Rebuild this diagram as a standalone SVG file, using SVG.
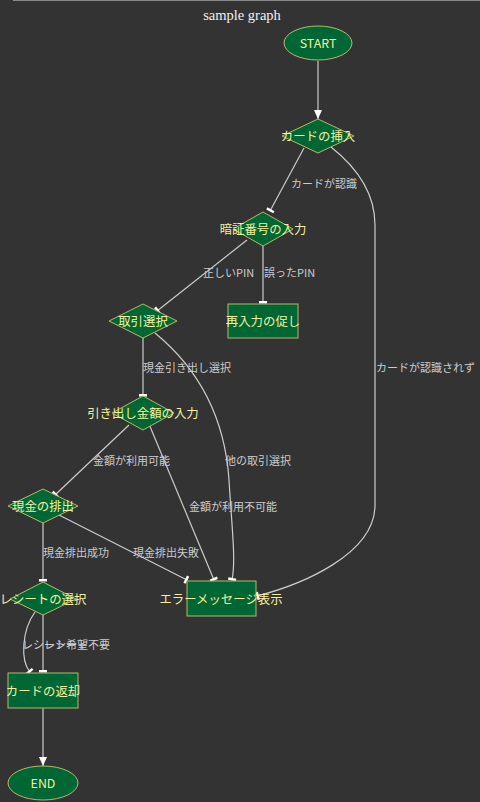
<svg xmlns="http://www.w3.org/2000/svg" width="480" height="802" viewBox="0 0 480 802">
<style>
.bg{fill:#333333}
.node{fill:#006633;stroke:#b8b86a;stroke-width:1}
.nt{font-family:"Noto Sans CJK JP","Liberation Sans",sans-serif;font-size:12.4px;fill:#f5f0a0;text-anchor:middle;dominant-baseline:central}
.edge{fill:none;stroke:#cccccc;stroke-width:1.2}
.el{font-family:"Noto Sans CJK JP","Liberation Sans",sans-serif;font-size:11px;fill:#cccccc}
.title{font-family:"Liberation Serif",serif;font-size:14.5px;fill:#f0f0f0;text-anchor:middle}
</style>
<defs>
<marker id="tee" markerUnits="userSpaceOnUse" markerWidth="6" markerHeight="12" refX="3" refY="6" orient="auto">
<rect x="1" y="2" width="2.5" height="8" fill="#ffffff"/>
</marker>
<marker id="arr" markerUnits="userSpaceOnUse" markerWidth="10" markerHeight="10" refX="9" refY="5" orient="auto">
<path d="M0,1 L9,5 L0,9 Z" fill="#ffffff"/>
</marker>
</defs>
<rect class="bg" x="0" y="0" width="480" height="802"/>
<line x1="13" y1="0.5" x2="480" y2="0.5" stroke="#8a8a8a" stroke-width="1"/>
<text class="title" x="242" y="20">sample graph</text>

<g id="connectors">
<path class="edge" d="M318,61 L318,119" marker-end="url(#arr)"/>
<path class="edge" d="M304,148 L270,211" marker-end="url(#tee)"/>
<path class="edge" d="M331,147 C360,170 375,195 375,225 L375,505 C375,555 300,585 257,596" marker-end="url(#tee)"/>
<path class="edge" d="M247,240 L157,311" marker-end="url(#tee)"/>
<path class="edge" d="M263,246 L263,303" marker-end="url(#tee)"/>
<path class="edge" d="M143,338 L143,396" marker-end="url(#tee)"/>
<path class="edge" d="M155,333 C200,370 225,420 229,480 C232,530 236,560 232,580" marker-end="url(#tee)"/>
<path class="edge" d="M129,425 L55,495" marker-end="url(#tee)"/>
<path class="edge" d="M149,424 L214,580" marker-end="url(#tee)"/>
<path class="edge" d="M43,523 L43,581" marker-end="url(#tee)"/>
<path class="edge" d="M59,515 L187,580" marker-end="url(#tee)"/>
<path class="edge" d="M43,615 L43,672" marker-end="url(#tee)"/>
<path class="edge" d="M35,612 C22,630 20,660 30,672" marker-end="url(#tee)"/>
<path class="edge" d="M43,708 L43,766" marker-end="url(#arr)"/>
<text class="el" x="291" y="188">カードが認識</text>
<text class="el" x="376" y="372">カードが認識されず</text>
<text class="el" x="203" y="277">正しいPIN</text>
<text class="el" x="264" y="277">誤ったPIN</text>
<text class="el" x="143" y="372">現金引き出し選択</text>
<text class="el" x="225" y="465">他の取引選択</text>
<text class="el" x="93" y="465">金額が利用可能</text>
<text class="el" x="189" y="511">金額が利用不可能</text>
<text class="el" x="43" y="557">現金排出成功</text>
<text class="el" x="133" y="557">現金排出失敗</text>
<text class="el" x="22" y="649">レシート希望</text>
<text class="el" x="44" y="649">レシート不要</text>
</g>

<g id="start"><ellipse class="node" cx="318" cy="43" rx="34" ry="17"/><text class="nt" x="318" y="43">START</text></g>
<g id="card_insert"><path class="node" d="M318,119 L354,136 L318,153 L282,136 Z"/><text class="nt" x="318" y="136">カードの挿入</text></g>
<g id="pin_input"><path class="node" d="M263,212 L293,229 L263,246 L233,229 Z"/><text class="nt" x="263" y="229">暗証番号の入力</text></g>
<g id="pin_retry"><rect class="node" x="228" y="304" width="70" height="34"/><text class="nt" x="263" y="321">再入力の促し</text></g>
<g id="select_tx"><path class="node" d="M143,304 L177,321 L143,338 L109,321 Z"/><text class="nt" x="143" y="321">取引選択</text></g>
<g id="amount_input"><path class="node" d="M143,396 L174,413 L143,430 L112,413 Z"/><text class="nt" x="143" y="413">引き出し金額の入力</text></g>
<g id="dispense"><path class="node" d="M43,489 L78,506 L43,523 L8,506 Z"/><text class="nt" x="43" y="506">現金の排出</text></g>
<g id="receipt"><path class="node" d="M43,582 L76,599 L43,615 L10,599 Z"/><text class="nt" x="43" y="599">レシートの選択</text></g>
<g id="card_return"><rect class="node" x="8" y="673" width="70" height="35"/><text class="nt" x="43" y="691">カードの返却</text></g>
<g id="error"><rect class="node" x="187" y="581" width="69" height="35"/><text class="nt" x="221" y="599">エラーメッセージ表示</text></g>
<g id="end"><ellipse class="node" cx="43" cy="783" rx="35" ry="17"/><text class="nt" x="43" y="783">END</text></g>
</svg>
